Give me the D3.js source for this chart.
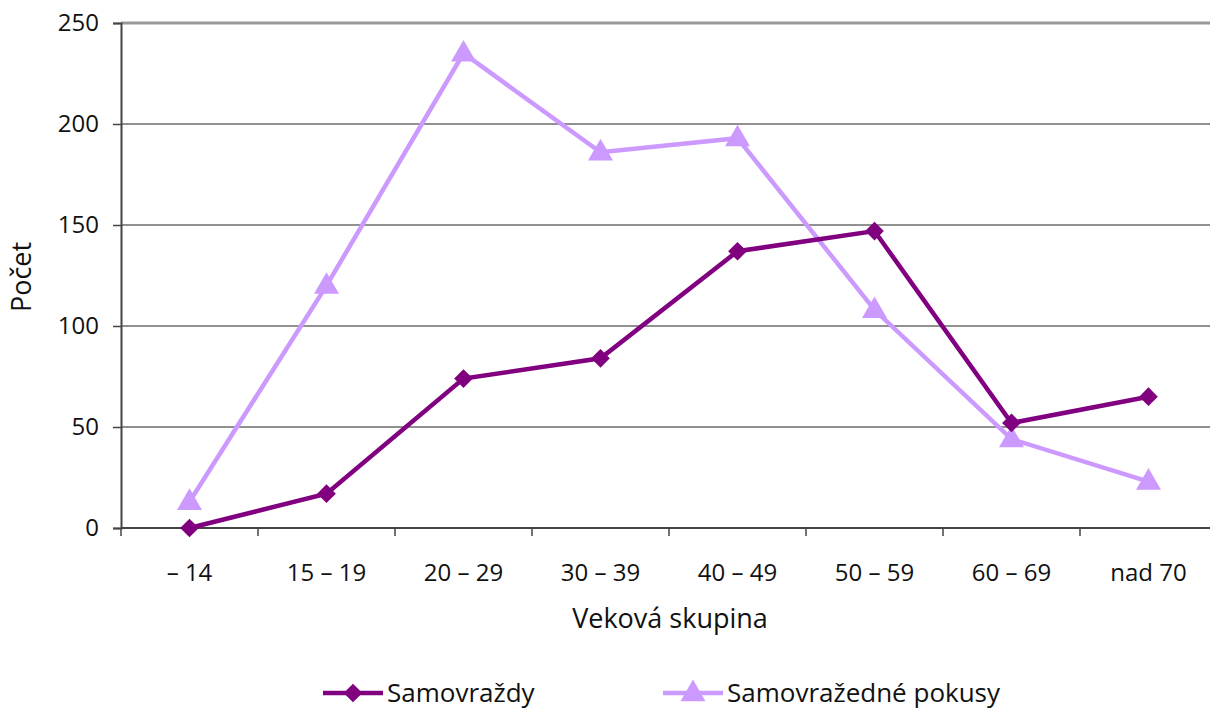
<!DOCTYPE html>
<html>
<head>
<meta charset="utf-8">
<script src="https://cdn.jsdelivr.net/npm/d3@7"></script>
<style>
body { margin: 0; background: #fff; }
text { font-family: "Open Sans", "Noto Sans", sans-serif; fill: #111; }
</style>
</head>
<body>
<svg id="chart" width="1210" height="711"></svg>
<script>
var categories = ["\u2013 14", "15 \u2013 19", "20 \u2013 29", "30 \u2013 39", "40 \u2013 49", "50 \u2013 59", "60 \u2013 69", "nad 70"];
var samovrazdy = [0, 17, 74, 84, 137, 147, 52, 65];
var pokusy = [13, 120, 235, 186, 193, 108, 44, 23];
var yTicks = [0, 50, 100, 150, 200, 250];
var seriesNames = ["Samovraždy", "Samovražedné pokusy"];

var DARK = "#800080", LIGHT = "#cc99ff";

var svg = d3.select("#chart");
var x = d3.scaleBand().domain(categories).range([121, 1217]);
var y = d3.scaleLinear().domain([0, 250]).range([528, 23]);

// gridlines
svg.append("g").selectAll("line")
    .data(yTicks.filter(function (d) { return d > 0; }))
    .enter().append("line")
    .attr("x1", 121).attr("x2", 1210)
    .attr("y1", function (d) { return y(d); })
    .attr("y2", function (d) { return y(d); })
    .attr("stroke", function (d) { return d == 250 ? "#999" : "#222"; })
    .attr("stroke-width", function (d) { return d == 250 ? 3 : 1; });

// y axis
var yAxis = svg.append("g")
    .attr("transform", "translate(121,0)")
    .call(d3.axisLeft(y).tickValues(yTicks).tickSize(8).tickPadding(14));
yAxis.select(".domain").attr("stroke", "#444").attr("stroke-width", 2);
yAxis.selectAll(".tick line").attr("stroke", "#444").attr("stroke-width", 1.5);
yAxis.selectAll(".tick text").style("font-size", "24px").style("fill", "#111");

// x axis with ticks at band edges
var xAxis = svg.append("g").attr("transform", "translate(0,528)");
xAxis.append("line").attr("x1", 121).attr("x2", 1210).attr("y1", 0).attr("y2", 0)
    .attr("stroke", "#444").attr("stroke-width", 2);
xAxis.selectAll(".edge").data(categories).enter().append("line")
    .attr("class", "edge")
    .attr("x1", function (d) { return x(d); })
    .attr("x2", function (d) { return x(d); })
    .attr("y1", 0).attr("y2", 8)
    .attr("stroke", "#444").attr("stroke-width", 1.5);
xAxis.selectAll(".lab").data(categories).enter().append("text")
    .attr("class", "lab")
    .attr("x", function (d) { return x(d) + x.bandwidth() / 2; })
    .attr("y", 53)
    .attr("text-anchor", "middle")
    .style("font-size", "24px")
    .text(function (d) { return d; });

// axis titles
svg.append("text").attr("x", 670).attr("y", 628).attr("text-anchor", "middle")
    .style("font-size", "27px").text("Veková skupina");
svg.append("text").attr("transform", "translate(31,277) rotate(-90)")
    .attr("text-anchor", "middle").style("font-size", "27px").text("Počet");

function cx(i) { return x(categories[i]) + x.bandwidth() / 2; }

var line = d3.line()
    .x(function (d, i) { return cx(i); })
    .y(function (d) { return y(d); });

var diamond = d3.symbol().type(d3.symbolSquare).size(175);
var triangle = d3.symbol().type(d3.symbolTriangle).size(270);

// pokusy series
svg.append("path").datum(pokusy).attr("d", line)
    .attr("fill", "none").attr("stroke", LIGHT).attr("stroke-width", 4.5);
svg.selectAll(".tri").data(pokusy).enter().append("path")
    .attr("class", "tri")
    .attr("d", triangle)
    .attr("transform", function (d, i) { return "translate(" + cx(i) + "," + (y(d) + 1) + ")"; })
    .attr("fill", LIGHT);

// samovrazdy series
svg.append("path").datum(samovrazdy).attr("d", line)
    .attr("fill", "none").attr("stroke", DARK).attr("stroke-width", 4.5);
svg.selectAll(".dia").data(samovrazdy).enter().append("path")
    .attr("class", "dia")
    .attr("d", diamond)
    .attr("transform", function (d, i) { return "translate(" + cx(i) + "," + y(d) + ") rotate(45)"; })
    .attr("fill", DARK);

// legend
var legend = [
    { name: seriesNames[0], color: DARK, sym: diamond, rot: 45, x: 323 },
    { name: seriesNames[1], color: LIGHT, sym: triangle, rot: 0, x: 663 }
];
var lg = svg.selectAll(".leg").data(legend).enter().append("g")
    .attr("class", "leg")
    .attr("transform", function (d) { return "translate(" + d.x + ",693)"; });
lg.append("line").attr("x1", 0).attr("x2", 60).attr("y1", 0).attr("y2", 0)
    .attr("stroke", function (d) { return d.color; }).attr("stroke-width", 4.5);
lg.append("path").attr("d", function (d) { return d.sym(); })
    .attr("transform", function (d) { return "translate(30," + (d.rot ? 0 : 1) + ") rotate(" + d.rot + ")"; })
    .attr("fill", function (d) { return d.color; });
lg.append("text").attr("x", 64).attr("y", 9).style("font-size", "26px")
    .text(function (d) { return d.name; });
</script>
</body>
</html>
